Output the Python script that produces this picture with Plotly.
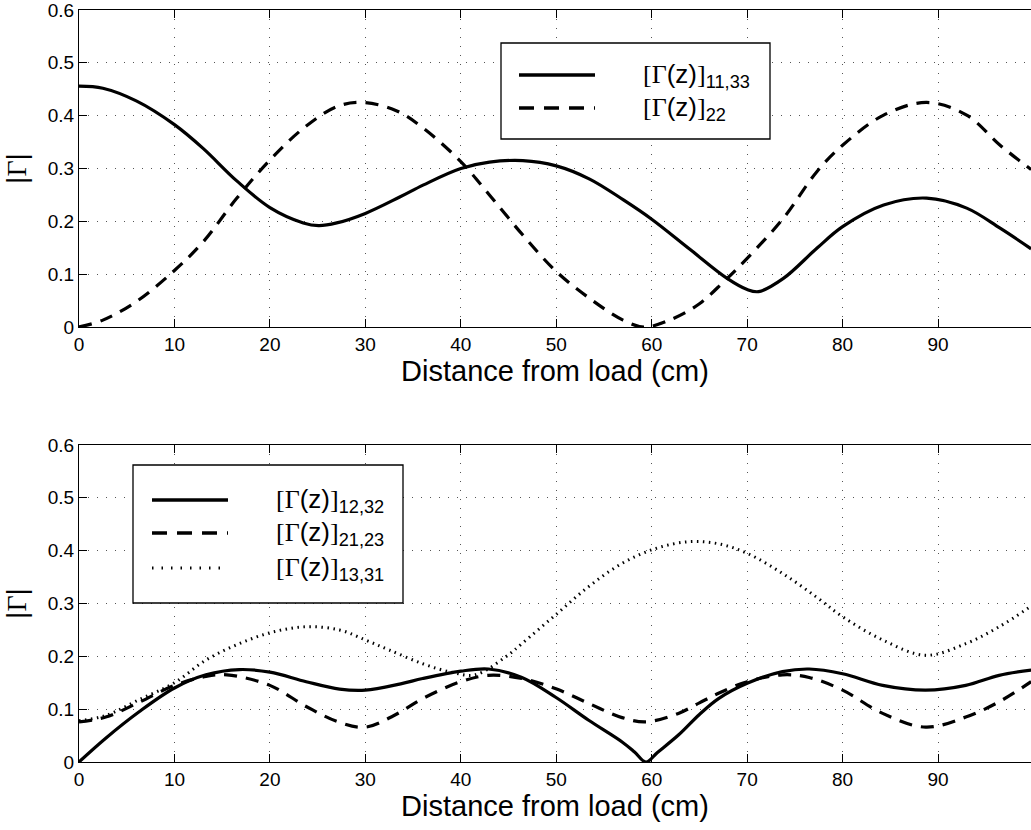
import plotly.graph_objects as go

# ---------------- data ----------------
top_x_solid = [0, 2.5, 6, 10, 13, 16.5, 20, 23.5, 25.1, 27, 30, 33.6, 36.1, 40, 43, 46.5, 50,
               53.5, 57, 60, 64, 67.9, 70, 71.2, 73.8, 77.3, 80, 84.3, 88.8, 93, 96.5, 99.75]
top_y_solid = [0.456, 0.452, 0.428, 0.383, 0.338, 0.277, 0.226, 0.197, 0.192, 0.197, 0.215, 0.246,
               0.269, 0.300, 0.312, 0.315, 0.305, 0.280, 0.241, 0.204, 0.147, 0.092, 0.071, 0.067,
               0.092, 0.149, 0.190, 0.231, 0.244, 0.225, 0.187, 0.148]

top_x_dash = [0, 2.5, 6, 10, 13, 16.5, 20, 23.5, 27, 29.7, 33.3, 36.1, 40, 43, 46.5, 50, 53.5, 57,
              59.2, 62, 65, 67.5, 70, 73.8, 77.3, 80, 84.3, 88.8, 93, 96.5, 99.75]
top_y_dash = [0.0, 0.013, 0.048, 0.107, 0.161, 0.243, 0.316, 0.376, 0.417, 0.425, 0.409, 0.376,
              0.313, 0.250, 0.174, 0.105, 0.054, 0.013, 0.0, 0.014, 0.044, 0.085, 0.130, 0.206,
              0.294, 0.344, 0.401, 0.425, 0.401, 0.344, 0.298]

bot_x_solid = [0, 2.8, 6.3, 10, 13.3, 16.8, 20, 23.8, 27.3, 30, 33.7, 36, 40, 42.9, 46.4, 49.9,
               53.4, 56.9, 58.2, 59.4, 60.6, 62.8, 65, 67, 70, 73.7, 76.5, 80, 84.2, 88.7, 92.9,
               96.4, 99.75]
bot_y_solid = [0.0, 0.045, 0.095, 0.140, 0.165, 0.175, 0.170, 0.152, 0.138, 0.136, 0.148, 0.158,
               0.172, 0.176, 0.160, 0.123, 0.079, 0.038, 0.019, 0.0, 0.018, 0.051, 0.090, 0.120,
               0.149, 0.171, 0.176, 0.167, 0.145, 0.136, 0.145, 0.164, 0.174]

bot_x_dash = [0, 2.8, 6.3, 10, 13.3, 15.5, 20, 23.8, 27.3, 30, 33, 36, 40, 42.9, 46.4, 49.9, 53.4,
              56.9, 59.4, 62.8, 65, 67, 70, 73.7, 76.5, 80, 84.2, 88.7, 92.9, 96.4, 99.75]
bot_y_dash = [0.076, 0.085, 0.113, 0.145, 0.162, 0.165, 0.145, 0.105, 0.075, 0.066, 0.088, 0.120,
              0.152, 0.164, 0.158, 0.139, 0.111, 0.084, 0.076, 0.092, 0.112, 0.130, 0.152, 0.165,
              0.160, 0.136, 0.092, 0.066, 0.085, 0.114, 0.152]

bot_x_dot = [0, 2.8, 6.3, 10, 13.3, 16.8, 20.3, 23.8, 27.3, 30, 32.5, 36, 39, 41.5, 44.7, 46.4,
             49.9, 53.4, 56.9, 60.4, 63.9, 67, 70, 73.7, 77.2, 80, 84.2, 88.7, 92.9, 96.4, 99.75]
bot_y_dot = [0.078, 0.088, 0.118, 0.150, 0.193, 0.224, 0.246, 0.256, 0.250, 0.231, 0.212, 0.186,
             0.170, 0.165, 0.199, 0.224, 0.278, 0.332, 0.376, 0.404, 0.417, 0.413, 0.395, 0.357,
             0.313, 0.275, 0.231, 0.202, 0.224, 0.256, 0.295]

x_ticks = [0, 10, 20, 30, 40, 50, 60, 70, 80, 90]
y_ticks = [0, 0.1, 0.2, 0.3, 0.4, 0.5, 0.6]
y_tick_text = ["0", "0.1", "0.2", "0.3", "0.4", "0.5", "0.6"]

top_labels = ["[Γ(z)]<sub>11,33</sub>", "[Γ(z)]<sub>22</sub>"]
bot_labels = ["[Γ(z)]<sub>12,32</sub>", "[Γ(z)]<sub>21,23</sub>", "[Γ(z)]<sub>13,31</sub>"]

# ---------------- layout geometry ----------------
W, H = 1031, 830
ML, MR, MT, MB = 79, 0, 10, 68
PW, PH = W - ML - MR, H - MT - MB


def px(xp):
    return (xp - ML) / PW


def py(yp):
    return (H - MB - yp) / PH


SERIF = "Liberation Serif"
SANS = "Liberation Sans, Arial, Helvetica, sans-serif"


def gam(label):
    # bracket and Gamma in a serif face, the rest sans
    return label.replace("[Γ", f"<span style=\"font-family:'{SERIF}'\">[Γ</span>").replace(
        ")]", f")<span style=\"font-family:'{SERIF}'\">]</span>")


SOLID = dict(color="black", width=3.2)
DASH = dict(color="black", width=3.2, dash="13px,9px")
DOT = dict(color="black", width=3, dash="1.5px,4.5px")

fig = go.Figure()
fig.add_trace(go.Scatter(x=top_x_solid, y=top_y_solid, mode="lines", line=dict(**SOLID, shape="spline"),
                         xaxis="x", yaxis="y", name="11,33"))
fig.add_trace(go.Scatter(x=top_x_dash, y=top_y_dash, mode="lines", line=dict(**DASH, shape="spline"),
                         xaxis="x", yaxis="y", name="22"))
fig.add_trace(go.Scatter(x=bot_x_dot, y=bot_y_dot, mode="lines", line=dict(**DOT, shape="spline"),
                         xaxis="x2", yaxis="y2", name="13,31"))
fig.add_trace(go.Scatter(x=bot_x_dash, y=bot_y_dash, mode="lines", line=dict(**DASH, shape="spline"),
                         xaxis="x2", yaxis="y2", name="21,23"))
fig.add_trace(go.Scatter(x=bot_x_solid, y=bot_y_solid, mode="lines", line=dict(**SOLID, shape="spline"),
                         xaxis="x2", yaxis="y2", name="12,32"))

top_dom = [py(327), 1.0]
bot_dom = [0.0, py(445)]

common_x = dict(range=[0, PW / 9.545], tickvals=x_ticks, showgrid=True, gridcolor="#555",
                griddash="1px,8px", gridwidth=1, zeroline=False, showline=True, linecolor="black",
                linewidth=1, mirror="ticks", ticks="inside", ticklen=8, tickcolor="black",
                tickfont=dict(family=SANS, size=19, color="black"), ticklabeloverflow="allow",
                title=dict(text="Distance from load (cm)", font=dict(family=SANS, size=29, color="black"),
                           standoff=4),
                automargin=False)
common_y = dict(range=[0, 0.6], tickvals=y_ticks, ticktext=y_tick_text,
                showgrid=True, gridcolor="#555", griddash="1px,8px", gridwidth=1, zeroline=False,
                showline=True, linecolor="black", linewidth=1, mirror=False, ticks="inside", ticklen=8,
                tickcolor="black", tickfont=dict(family=SANS, size=19, color="black"),
                ticklabeloverflow="allow",
                title=dict(text=f"|<span style=\"font-family:'{SERIF}'\">Γ</span>|",
                           font=dict(family=SANS, size=28, color="black"), standoff=12),
                automargin=False)

fig.update_layout(
    width=W, height=H, margin=dict(l=ML, r=MR, t=MT, b=MB),
    paper_bgcolor="white", plot_bgcolor="white", showlegend=False,
    xaxis=dict(**common_x, anchor="y"),
    yaxis=dict(**common_y, domain=top_dom, anchor="x"),
    xaxis2=dict(**common_x, anchor="y2"),
    yaxis2=dict(**common_y, domain=bot_dom, anchor="x2"),
)

# ---------------- hand-drawn MATLAB-style legends ----------------
shapes = []
annots = []


def legend(box, rows, styles, labels, sample_x, text_x):
    x0, y0, x1, y1 = box
    shapes.append(dict(type="rect", xref="paper", yref="paper", x0=px(x0), x1=px(x1), y0=py(y0), y1=py(y1),
                       line=dict(color="black", width=1.3), fillcolor="white", layer="above"))
    for yr, st, lab in zip(rows, styles, labels):
        shapes.append(dict(type="line", xref="paper", yref="paper", x0=px(sample_x[0]), x1=px(sample_x[1]),
                           y0=py(yr), y1=py(yr), line=st, layer="above"))
        annots.append(dict(xref="paper", yref="paper", x=px(text_x), y=py(yr), xanchor="left",
                           yanchor="middle", showarrow=False, text=gam(lab),
                           font=dict(family=SANS, size=26, color="black")))


legend((501, 43, 770, 139), [75, 108],
       [dict(color="black", width=3.5), dict(color="black", width=3.5, dash="15px,10px")],
       top_labels, (519, 595), 641)
legend((133, 465, 403, 603), [500, 533, 568],
       [dict(color="black", width=3.5), dict(color="black", width=3.5, dash="15px,10px"),
        dict(color="black", width=3, dash="1.5px,8px")],
       bot_labels, (152, 228), 274)

fig.update_layout(shapes=shapes, annotations=annots)

fig.write_html("out.html", config={"displayModeBar": False},
               post_script="document.body.style.margin='0';document.body.style.overflow='hidden';")
